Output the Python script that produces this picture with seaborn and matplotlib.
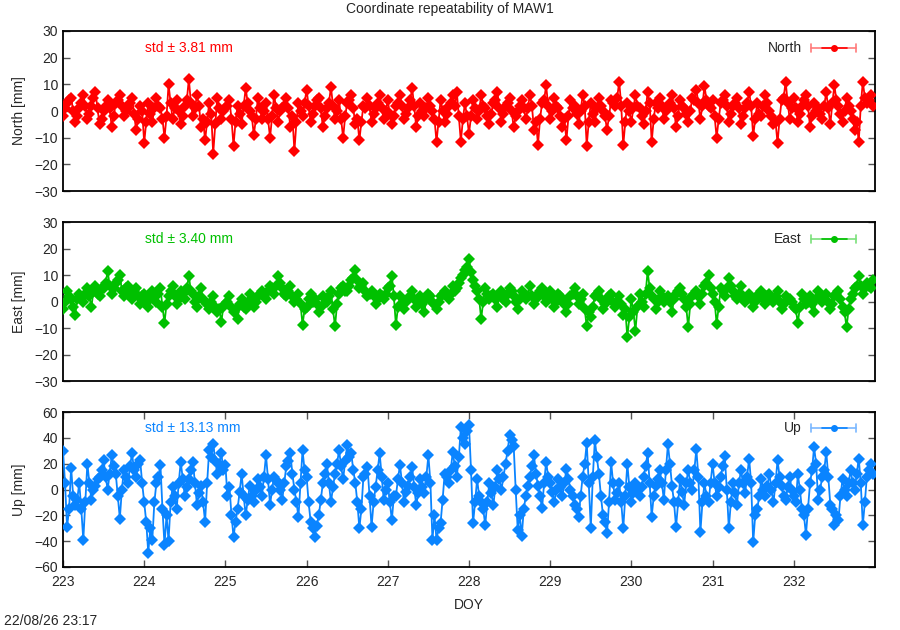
"""
Coordinate repeatability of MAW1: North / East / Up residuals over DOY
"""
import numpy as np
import pandas as pd
import seaborn as sns
import matplotlib
matplotlib.use('Agg')
import matplotlib.pyplot as plt

# time axis: epochs every 0.05 day from DOY 223, plus half-step epochs
doy_start = 223.0
doy_step = 0.05

north_mm = [
    -2, 3, 5, -4, 1, 6, -3, 2, 7, -5, 0, 4, -6, 3, 6, -2, 1, 5, -7, 2,
    -12, 3, -4, 5, 1, -10, 10, -3, 4, -5, 2, 12, -2, 6, -6, -11, 3, -16, 5, -3,
    1, 4, -13, 2, -5, 8.5, 0, -9, 5, -3, 3, -10, 6, -4, 1, 5, -6, -15, 3, -2,
    8, -4, 2, 5, -6, 1, 9, -3, 4, -10, 3, 6, -5, -11, 2, 5, -4, 1, 6, -3,
    4, -5, 2, 6, -3, 1, 8.5, -6, 3, -2, 5, 0, -11.5, 4, -4, 2, 6, 7, -11.5, 3,
    -8.5, 4, -3, 6, 1, -5, 3, 7, -4, 2, 5, -6, 0, 4, -3, 6, -7, -12.6, 3, 9.6,
    -3, 5, 1, -6, -11, 4, 2, -5, 6, -13, 3, -4, 5, 0, -7, 4, 2, 11, -12.9, 3,
    -4, 6, 1, -5, 7, -11.6, 3, 5, -3, 2, 6, -6, 4, 1, -4, 5, 8, -3, 9.5, 2,
    4, -10, 3, 6, -4, 2, 5, -5, 1, 7, -9.4, 3, -2, 6, 0, -5, -12, 4, 11, -3,
    5, -4, 2, 6, -6, 3, 1, -3, 7, -5, 9.6, 2, -4, 5, 0, -7, -11.6, 11, 3, 6,
]
north_mid_mm = [
    1, 4, 0, -2, 3, 2, -1, 5, 1, -3, 2, 1, -2, 4, 2, 0, 3, -1, -3, 0,
    -4, -1, 1, 2, -3, -2, 3, 1, 0, -2, 4, 3, 1, 2, -3, -4, -1, -5, 1, 0,
    2, -3, -4, -1, 2, 3, -2, -3, 1, 0, -3, -2, 1, 0, 2, 1, -2, -4, 0, 3,
    2, -1, 4, 1, -2, 3, 2, 0, -3, -2, 4, 1, -3, -4, 1, 2, -1, 3, 1, 0,
    -1, -2, 3, 2, -1, 4, 2, -2, 0, 1, 2, -3, -4, 0, -1, 3, 2, -2, -3, -2,
    -2, 1, 0, 2, -2, -1, 4, 1, -1, 3, 0, -2, 2, 1, 1, 2, -4, -3, 4, 2,
    0, 2, -2, -3, -2, 1, -1, 0, 2, -4, -1, 1, 2, -2, -2, 3, 5, 2, -4, 0,
    1, 2, -2, 0, 3, -3, 1, 2, 0, 3, 1, -2, 2, -1, 0, 4, 3, 2, 4, 1,
    -2, -3, 4, 2, -1, 3, 1, -2, 3, 2, -3, -1, 2, 3, -2, -4, -3, 5, 3, 1,
    1, -1, 4, 2, -2, 0, -1, 2, 1, 3, 4, -1, 0, 2, -3, -4, 2, 5, 4, 2,
]

east_mm = [
    -3, 4, 1, -5, 3, 0, 5, -2, 6, 2, 5, 11.5, 3, 7, 10, 2, 6, 1, 5, -1,
    3, -2, 4, 0, 5, -8, 2, 6, -1, 4, 1, 9.6, 3, -2, 5, 0, -3, 2, -4, -7.6,
    -1, 2, -4, -6.6, 1, -3, 3, -2, 2, 4, 1, 6, 3, 9.6, 5, 2, 6, 0, 3, -8.7,
    -2, 3, 1, -4, 2, 0, 4, -9.4, 3, 6, 4, 8, 12, 5, 7, 2, 4, -1, 3, 1,
    5, 9.6, -9, 2, -3, 1, 4, -2, 2, -4, 3, 0, -3, 2, 4, 1, 6, 5, 9, 12,
    16, 8, 4, -6.6, 5, 1, 3, -2, 4, 0, 5, 2, -3, 4, 1, 6, -1, 3, 5, 0,
    4, -2, 3, 1, -4, 2, 5, -1, 3, -9.4, -6, 2, 4, -3, 1, 3, -2, 2, -5, -13.5,
    1, -11, 3, -2, 11.5, 2, -3, 4, 0, 2, -4, 3, 5, 1, -9.7, 2, 4, -1, 6, 10,
    3, -8.5, 5, 2, 9, 4, 1, 6, 0, 3, -2, 2, 4, -1, 3, 0, 4, -3, 2, 1,
    -2, -8.2, 3, -1, 2, -4, 4, 0, 3, -3, 2, 4, -2, -9.7, 1, 5, 9.6, 3, 7, 5,
]
east_mid_mm = [
    0, 2, -2, 1, 1, 3, 2, 4, 3, 5, 7, 6, 5, 8, 4, 5, 3, 4, 2, 2,
    0, 1, 2, 3, -2, -1, 4, 2, 1, 3, 5, 4, 0, 2, 1, -1, 0, -2, -3, -2,
    0, -2, -3, -1, -2, 0, 1, 0, 3, 2, 4, 5, 6, 7, 3, 4, 2, 1, -1, -3,
    1, 0, -1, -2, 1, 2, -3, -1, 5, 4, 6, 9, 8, 6, 4, 3, 2, 1, 2, 3,
    6, 2, -2, -1, 0, 2, 1, 0, -1, 1, 2, -1, 0, 3, 2, 3, 4, 7, 10, 13,
    11, 6, 1, 0, 3, 2, 1, 2, 1, 3, 4, 0, 1, 3, 2, 2, 1, 4, 2, 1,
    1, 0, 2, -1, -1, 3, 2, 1, -3, -4, -2, 3, 1, -1, 2, 0, 0, -1, -3, -6,
    -4, -2, 0, 3, 5, 1, 0, 2, 1, 0, 1, 4, 3, -2, -1, 3, 2, 3, 7, 5,
    0, -2, 4, 5, 6, 2, 3, 2, 1, 1, 0, 3, 1, 2, 1, 2, 0, -1, 1, 0,
    -3, -2, 1, 0, -1, 1, 2, 1, 0, -1, 3, 1, -4, -3, 3, 6, 6, 5, 6, 8,
]

up_mm = [
    30, -29, 17, -12, 5, -39, 20, -8, 3, 10, 22.7, 0, 26.5, 12, -22.5, 15, 5, 28, 10, 22.7,
    -10, -49, -39, 5, 19, -43, -40, 2, -15, 21.4, -5, 8, 21.4, -12, 3, -25, 30.5, 35.6, 12, 28,
    19, 2, -36.6, -15, 12, -20, 3, -10, 8, -5, 26.5, -12, 10, 5, -8, 18, 28, 0, -21, 30.5,
    10, -25, -36.6, -20, 5, 20, -10, 12, 30.5, 8, 34.3, 28, 5, -30, 10, 17.5, -29, 2, 28, -8,
    5, -23.7, -5, 19, -10, 3, 17.5, -12, 8, -3, 26.5, -39, -39, -26, 12, 5, 29, 10, 48.5, 35,
    50, -26, 8, -10, -27.6, 5, -12, 15, 0, 20, 42, 34, -31, -36, -5, 10, 26.5, 3, -14.7, 21.4,
    5, -10, 8, -5, 16, 0, -12, -21, 10, 36, -30, 38, 12, -20, -34, 21.4, -8, 5, -30, 20,
    -10, 5, -5, 10, 28, -21, 3, 15, -8, 35, 3, -29, 8, -12, 15, 0, 31, -33, 5, -10,
    20, -5, 10, 26, -30, 5, -12, 15, -3, 24, -41, -15, 8, -5, 12, -10, 22.7, 3, -8, 10,
    -5, 12, -15, -35, 5, 33, -8, 10, 29, -12, -27.6, -23.7, 8, -5, 15, 0, 24, -27.6, 10, 20,
]
up_mid_mm = [
    5, -15, -5, -8, -15, -10, 5, 0, 8, 15, 10, 12, 18, -5, 0, 10, 18, 15, 20, 5,
    -25, -30, -10, 10, -15, -20, -10, -5, 5, 8, 2, 15, 5, -3, -10, 5, 25, 22, 20, 15,
    -5, -20, -25, -2, -5, -8, -5, 0, 2, 10, 8, 0, 7, 0, 5, 22, 12, -10, 5, 15,
    -10, -30, -28, -8, 12, 5, 2, 20, 18, 22, 25, 15, -10, -15, 12, -5, -10, 15, 10, 0,
    -10, -5, 8, 5, -2, 10, 2, -3, 2, 10, 5, -20, -30, -8, 10, 15, 18, 25, 40, 45,
    15, -10, -5, -15, -10, -3, 2, 8, 10, 30, 38, 0, -20, -15, 3, 18, 12, -5, 5, 10,
    -2, 0, 2, 5, 8, -5, -15, -5, 20, 5, 10, 25, -5, -25, -10, 5, -3, -10, -5, 2,
    -3, 0, 2, 18, 5, -5, 8, 5, 15, 20, -10, -10, -2, 5, 5, 15, 10, -10, -5, 5,
    5, 2, 18, 0, -10, -3, 5, 5, 10, 5, -20, -5, 0, 3, 0, 5, 10, -5, 2, 0,
    -10, 0, -20, -15, 15, 20, 0, 15, 10, -15, -20, -5, 0, 5, 5, 12, 5, -10, 15, 12,
]

components = ['North', 'East', 'Up']
std_labels = ['std \u00b1 3.81 mm', 'std \u00b1 3.40 mm', 'std \u00b1 13.13 mm']
colors = ['#ff0000', '#00c000', '#0a84ff']
legend_colors = ['#ff7a7a', '#7ae07a', '#7ab8ff']
ylims = [(-30, 30), (-30, 30), (-60, 60)]
ysteps = [10, 10, 20]
xticks = list(range(223, 233))

sns.set_style('ticks')
plt.rcParams['font.family'] = ['Liberation Sans', 'DejaVu Sans']
plt.rcParams['font.size'] = 10

doy = doy_start + doy_step * np.arange(len(north_mm))
main = pd.DataFrame({'DOY': doy, 'North': north_mm, 'East': east_mm,
                     'Up': up_mm})
mid = pd.DataFrame({'DOY': doy + doy_step / 2, 'North': north_mid_mm,
                    'East': east_mid_mm, 'Up': up_mid_mm})
df = pd.concat([main, mid]).sort_values('DOY').reset_index(drop=True)

fig = plt.figure(figsize=(9, 6.3), dpi=100)
boxes = [[0.07, 0.6968, 0.9022, 0.254],
         [0.07, 0.3952, 0.9022, 0.2524],
         [0.07, 0.1000, 0.9022, 0.2460]]

for i, comp in enumerate(components):
    ax = fig.add_axes(boxes[i])
    sns.lineplot(data=df, x='DOY', y=comp, ax=ax, color=colors[i],
                 marker='D', markersize=6.5, markeredgewidth=0, lw=1.3,
                 estimator=None, sort=False, zorder=3)
    ax.set_xlim(223, 233)
    ax.set_ylim(*ylims[i])
    lo, hi = ylims[i]
    ax.set_yticks(np.arange(lo, hi + 1, ysteps[i]))
    ax.set_ylabel(comp + ' [mm]', fontsize=10, labelpad=6)
    for s in ax.spines.values():
        s.set_linewidth(1.3)
        s.set_color('black')
    ax.tick_params(axis='y', direction='in', length=5, width=1,
                   right=True, labelsize=10, color='#555555')
    if i < 2:
        ax.set_xticks([])
        ax.set_xlabel('')
    else:
        ax.set_xticks(xticks)
        ax.tick_params(axis='x', direction='in', length=5, width=1,
                       top=True, labelsize=10, color='#555555', pad=6)
        ax.set_xlabel('DOY', fontsize=10, labelpad=6)
    ax.text(0.101, 0.895, std_labels[i], transform=ax.transAxes,
            color=colors[i], fontsize=10, ha='left', va='center')
    # gnuplot-style key: label, then line with caps and a dot
    ax.text(0.91, 0.895, comp, transform=ax.transAxes, fontsize=10,
            ha='right', va='center')
    ax.plot([0.921, 0.977], [0.895, 0.895], transform=ax.transAxes,
            color=legend_colors[i], lw=1.2, clip_on=False)
    for xc in (0.921, 0.977):
        ax.plot([xc, xc], [0.87, 0.92], transform=ax.transAxes,
                color=legend_colors[i], lw=1.2, clip_on=False)
    ax.plot([0.935, 0.965], [0.895, 0.895], transform=ax.transAxes,
            color=colors[i], lw=1.2, clip_on=False)
    ax.plot([0.95], [0.895], transform=ax.transAxes, marker='o',
            markersize=4, color=colors[i], clip_on=False)

fig.text(0.5, 0.985, 'Coordinate repeatability of MAW1', ha='center',
         va='center', fontsize=10)
fig.text(0.005, 0.003, '22/08/26 23:17', ha='left', va='bottom', fontsize=10)

fig.savefig('out.png', dpi=100)
